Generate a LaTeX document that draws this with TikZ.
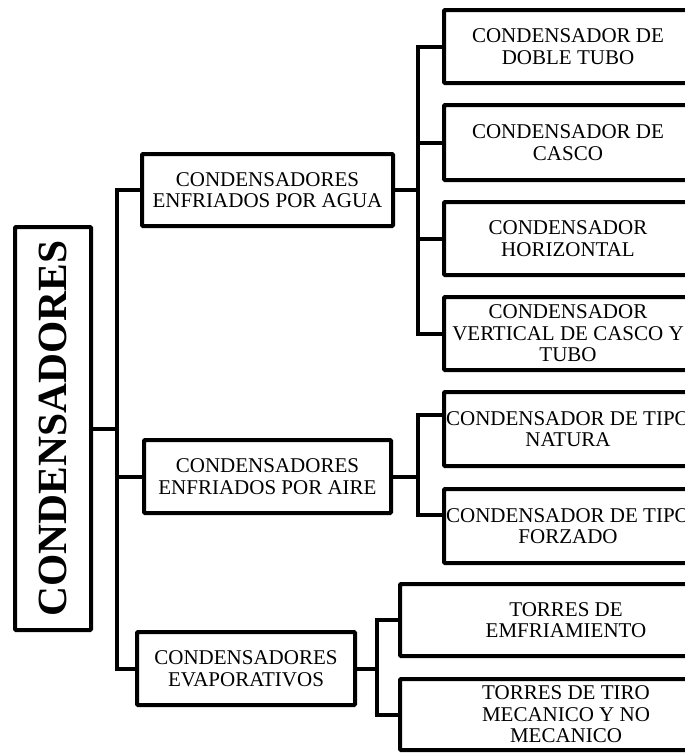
\documentclass[tikz,border=0pt]{standalone}
\usepackage{fontspec}
\setmainfont{Liberation Serif}
\usetikzlibrary{calc}

\begin{document}
\begin{tikzpicture}[x=1pt,y=-1pt,
    caja/.style={draw,line width=4pt,rounded corners=1pt,inner sep=0pt,align=center,
      font=\fontsize{21}{21.5}\selectfont},
    nivel/.style={caja,minimum width=251pt,minimum height=73pt},
    hoja/.style={caja,minimum width=248pt,minimum height=74pt},
    enlace/.style={line width=4pt}]
  \def\xa{117};
  \def\xb{418};
  \def\xc{377};
  \useasboundingbox (0,0) rectangle (685,753);
  \clip (0,0) rectangle (685,753);
  % raiz
  \node[caja,minimum width=76pt,minimum height=403pt] (raiz) at (53,428.5)
    {\rotatebox{90}{\fontsize{41.5}{45}\selectfont\bfseries CONDENSADORES}};
  % primer nivel
  \node[nivel,minimum height=72pt] (agua) at (267.5,190) {CONDENSADORES\\ENFRIADOS POR AGUA};
  \node[nivel,minimum width=247pt] (aire) at (267.5,476.5) {CONDENSADORES\\ENFRIADOS POR AIRE};
  \node[nivel,minimum width=218pt] (evap) at (246,668.5) {CONDENSADORES\\EVAPORATIVOS};
  % hojas
  \node[hoja,minimum height=73pt] (doble) at (568,46.5) {CONDENSADOR DE\\DOBLE TUBO};
  \node[hoja,minimum height=75pt] (casco) at (568,142.5) {CONDENSADOR DE\\CASCO};
  \node[hoja,minimum height=73pt] (horiz) at (568,238.5) {CONDENSADOR\\HORIZONTAL};
  \node[hoja,minimum height=73pt] (vert) at (568,333.5) {CONDENSADOR\\VERTICAL DE CASCO Y\\TUBO};
  \node[hoja] (natura) at (568,429) {CONDENSADOR DE TIPO\\NATURA};
  \node[hoja] (forzado) at (568,526) {CONDENSADOR DE TIPO\\FORZADO};
  \node[hoja,minimum width=332pt,minimum height=72pt] (emfri) at (566,620) {TORRES DE\\EMFRIAMIENTO};
  \node[hoja,minimum width=332pt,minimum height=71pt] (tiro) at (566,714.5) {TORRES DE TIRO\\MECANICO Y NO\\MECANICO};
  \coordinate (ja) at (\xa,0);
  \coordinate (jb) at (\xb,0);
  \coordinate (jc) at (\xc,0);
  \coordinate (pnat) at ($(natura.west)+(0,-14)$);
  \coordinate (pfor) at ($(forzado.west)+(0,-11)$);
  % conectores
  \draw[enlace] (raiz.east) -- (raiz.east -| ja);
  \draw[enlace] (agua.west) -- (agua.west -| ja) -- (evap.west -| ja) -- (evap.west);
  \draw[enlace] (aire.west) -- (aire.west -| ja);
  \draw[enlace] (agua.east) -- (agua.east -| jb);
  \draw[enlace] (doble.west) -- (doble.west -| jb) -- (vert.west -| jb) -- (vert.west);
  \draw[enlace] (casco.west) -- (casco.west -| jb);
  \draw[enlace] (horiz.west) -- (horiz.west -| jb);
  \draw[enlace] (aire.east) -- (aire.east -| jb);
  \draw[enlace] (pnat) -- (pnat -| jb) -- (pfor -| jb) -- (pfor);
  \draw[enlace] (evap.east) -- (evap.east -| jc);
  \draw[enlace] (emfri.west) -- (emfri.west -| jc) -- (tiro.west -| jc) -- (tiro.west);
\end{tikzpicture}
\end{document}
